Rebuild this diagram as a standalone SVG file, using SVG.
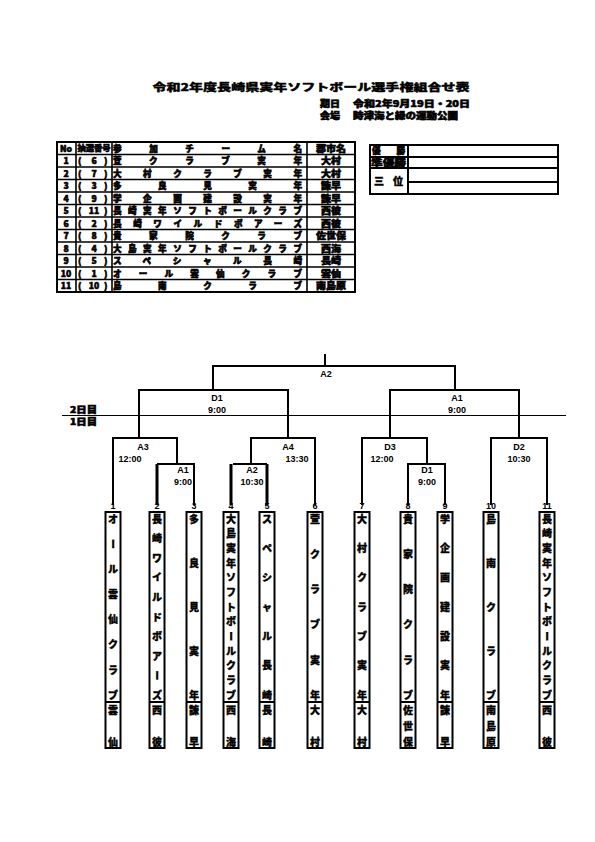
<svg xmlns="http://www.w3.org/2000/svg" width="595" height="842" viewBox="0 0 595 842">
<style>
.j{font-family:"Noto Sans CJK JP","Noto Sans CJK SC",sans-serif;font-weight:900;font-size:10px;fill:#000;stroke:#000;stroke-width:0.35}
.s{font-size:8.6px;stroke-width:0.6}
.c{text-anchor:middle}
.n text{text-anchor:middle}
.l{font-family:"Liberation Sans",Arial,sans-serif;font-weight:bold;font-size:9px;text-anchor:middle;fill:#000}
.b{fill:#fff;stroke:#000;stroke-width:2}
.t{stroke:#000;stroke-width:1.6;fill:none}
.k{stroke:#000;stroke-width:2;fill:none}
.w{stroke:#000;stroke-width:3;fill:none}
</style>
<rect width="595" height="842" fill="#fff"/>
<g id="title">
<text class="j c" x="311" y="91" font-size="14" textLength="317" lengthAdjust="spacingAndGlyphs">令和2年度長崎県実年ソフトボール選手権組合せ表</text>
<text class="j s" x="320" y="107" font-size="8" textLength="20" lengthAdjust="spacingAndGlyphs">期日</text>
<text class="j s" x="353" y="107" font-size="8" textLength="117" lengthAdjust="spacingAndGlyphs">令和2年9月19日・20日</text>
<text class="j s" x="320" y="119" font-size="8" textLength="20" lengthAdjust="spacingAndGlyphs">会場</text>
<text class="j s" x="353" y="119" font-size="8" textLength="105" lengthAdjust="spacingAndGlyphs">時津海と緑の運動公園</text>
</g>
<g id="entry-table">
<rect x="57" y="142" width="298" height="150" class="b"/>
<path class="t" d="M57 154.5H355M57 167H355M57 179.5H355M57 192H355M57 204.5H355M57 217H355M57 229.5H355M57 242H355M57 254.5H355M57 267H355M57 279.5H355M76 142V292M112 142V292M307 142V292"/>
<g class="j s">
<text class="c" x="66" y="151.6">No</text>
<text class="c" x="94" y="151.2" font-size="7.5" textLength="33" lengthAdjust="spacingAndGlyphs">抽選番号</text>
<text x="113" y="151.6" textLength="189" lengthAdjust="spacing">参加チーム名</text>
<text class="c" x="331" y="151.6" textLength="30" lengthAdjust="spacingAndGlyphs">郡市名</text>
<text x="66" y="164.1" class="c">1</text><text x="78" y="164.1">(</text><text x="94" y="164.1" class="c">6</text><text x="104" y="164.1">)</text><text x="113" y="164.1" textLength="189" lengthAdjust="spacing">萱クラブ実年</text><text x="331" y="164.1" class="c" textLength="20" lengthAdjust="spacingAndGlyphs">大村</text>
<text x="66" y="176.6" class="c">2</text><text x="78" y="176.6">(</text><text x="94" y="176.6" class="c">7</text><text x="104" y="176.6">)</text><text x="113" y="176.6" textLength="189" lengthAdjust="spacing">大村クラブ実年</text><text x="331" y="176.6" class="c" textLength="20" lengthAdjust="spacingAndGlyphs">大村</text>
<text x="66" y="189.1" class="c">3</text><text x="78" y="189.1">(</text><text x="94" y="189.1" class="c">3</text><text x="104" y="189.1">)</text><text x="113" y="189.1" textLength="189" lengthAdjust="spacing">多良見実年</text><text x="331" y="189.1" class="c" textLength="20" lengthAdjust="spacingAndGlyphs">諫早</text>
<text x="66" y="201.6" class="c">4</text><text x="78" y="201.6">(</text><text x="94" y="201.6" class="c">9</text><text x="104" y="201.6">)</text><text x="113" y="201.6" textLength="189" lengthAdjust="spacing">学企画建設実年</text><text x="331" y="201.6" class="c" textLength="20" lengthAdjust="spacingAndGlyphs">諫早</text>
<text x="66" y="214.1" class="c">5</text><text x="78" y="214.1">(</text><text x="94" y="214.1" class="c">11</text><text x="104" y="214.1">)</text><text x="113" y="214.1" textLength="189" lengthAdjust="spacing">長崎実年ソフトボールクラブ</text><text x="331" y="214.1" class="c" textLength="20" lengthAdjust="spacingAndGlyphs">西彼</text>
<text x="66" y="226.6" class="c">6</text><text x="78" y="226.6">(</text><text x="94" y="226.6" class="c">2</text><text x="104" y="226.6">)</text><text x="113" y="226.6" textLength="189" lengthAdjust="spacing">長崎ワイルドボアーズ</text><text x="331" y="226.6" class="c" textLength="20" lengthAdjust="spacingAndGlyphs">西彼</text>
<text x="66" y="239.1" class="c">7</text><text x="78" y="239.1">(</text><text x="94" y="239.1" class="c">8</text><text x="104" y="239.1">)</text><text x="113" y="239.1" textLength="189" lengthAdjust="spacing">貴家院クラブ</text><text x="331" y="239.1" class="c" textLength="30" lengthAdjust="spacingAndGlyphs">佐世保</text>
<text x="66" y="251.6" class="c">8</text><text x="78" y="251.6">(</text><text x="94" y="251.6" class="c">4</text><text x="104" y="251.6">)</text><text x="113" y="251.6" textLength="189" lengthAdjust="spacing">大島実年ソフトボールクラブ</text><text x="331" y="251.6" class="c" textLength="20" lengthAdjust="spacingAndGlyphs">西海</text>
<text x="66" y="264.1" class="c">9</text><text x="78" y="264.1">(</text><text x="94" y="264.1" class="c">5</text><text x="104" y="264.1">)</text><text x="113" y="264.1" textLength="189" lengthAdjust="spacing">スペシャル長崎</text><text x="331" y="264.1" class="c" textLength="20" lengthAdjust="spacingAndGlyphs">長崎</text>
<text x="66" y="276.6" class="c">10</text><text x="78" y="276.6">(</text><text x="94" y="276.6" class="c">1</text><text x="104" y="276.6">)</text><text x="113" y="276.6" textLength="189" lengthAdjust="spacing">オール雲仙クラブ</text><text x="331" y="276.6" class="c" textLength="20" lengthAdjust="spacingAndGlyphs">雲仙</text>
<text x="66" y="289.1" class="c">11</text><text x="78" y="289.1">(</text><text x="94" y="289.1" class="c">10</text><text x="104" y="289.1">)</text><text x="113" y="289.1" textLength="189" lengthAdjust="spacing">島南クラブ</text><text x="331" y="289.1" class="c" textLength="30" lengthAdjust="spacingAndGlyphs">南島原</text>
</g>
</g>
<g id="result-table">
<rect x="370" y="145" width="188" height="49" class="b"/>
<path class="k" d="M408 145V194M370 157H558M370 168H558M408 182H558"/>
<text class="j s" x="372" y="154.3" font-size="7.8" textLength="33" lengthAdjust="spacing">優勝</text>
<text class="j s" x="371" y="165.6" font-size="7.8" textLength="35" lengthAdjust="spacingAndGlyphs">準優勝</text>
<text class="j" x="374" y="185" textLength="29" lengthAdjust="spacing">三位</text>
</g>
<g id="day-divider">
<line x1="62" y1="415.5" x2="566" y2="415.5" stroke="#000" stroke-width="1"/>
<text class="j s" x="70" y="412.5" font-size="8" textLength="27" lengthAdjust="spacingAndGlyphs">2日目</text>
<text class="j s" x="70" y="424.5" font-size="8" textLength="27" lengthAdjust="spacingAndGlyphs">1日目</text>
</g>
<g id="connectors">
<path class="k" d="M325 354V366M213 390V366H455V390M139 438V390H288V438M390 438V390H519V438"/>
<path class="k" d="M113 505V438H177V464M157 464H194V505M315 505V438H251V464M233 464H267M362 505V438H427V464M408 505V464H445V505M491 505V438H547V505"/>
<path class="w" d="M157 505V464M231 505V464M267 505V464"/>
</g>
<g id="match-labels" class="l">
<text x="326" y="376.5">A2</text>
<text x="217" y="401">D1</text><text x="217" y="413">9:00</text>
<text x="457" y="401">A1</text><text x="457" y="413">9:00</text>
<text x="143" y="450">A3</text><text x="130" y="462">12:00</text>
<text x="183" y="473">A1</text><text x="183" y="485">9:00</text>
<text x="288" y="450">A4</text><text x="297" y="462">13:30</text>
<text x="252" y="473">A2</text><text x="252" y="485">10:30</text>
<text x="390" y="450">D3</text><text x="382" y="462">12:00</text>
<text x="427" y="473">D1</text><text x="427" y="485">9:00</text>
<text x="519" y="450">D2</text><text x="519" y="462">10:30</text>
</g>
<g id="team-1"><rect class="b" x="105.5" y="512" width="15" height="236"/><line class="k" x1="105.5" y1="702" x2="120.5" y2="702"/><text class="l" x="113" y="509">1</text>
<g class="j n"><text x="113" y="522.7">オ</text><text x="113" y="547.8" transform="rotate(90 113 544.1)">ー</text><text x="113" y="573">ル</text><text x="113" y="598.1">雲</text><text x="113" y="623.3">仙</text><text x="113" y="648.4">ク</text><text x="113" y="673.6">ラ</text><text x="113" y="698.7">ブ</text><text x="113" y="713.5">雲</text><text x="113" y="745.7">仙</text></g></g>
<g id="team-2"><rect class="b" x="149.5" y="512" width="15" height="236"/><line class="k" x1="149.5" y1="702" x2="164.5" y2="702"/><text class="l" x="157" y="509">2</text>
<g class="j n"><text x="157" y="522.7">長</text><text x="157" y="542.3">崎</text><text x="157" y="561.8">ワ</text><text x="157" y="581.4">イ</text><text x="157" y="600.9">ル</text><text x="157" y="620.5">ド</text><text x="157" y="640">ボ</text><text x="157" y="659.6">ア</text><text x="157" y="679.1" transform="rotate(90 157 675.4)">ー</text><text x="157" y="698.7">ズ</text><text x="157" y="713.5">西</text><text x="157" y="745.7">彼</text></g></g>
<g id="team-3"><rect class="b" x="186.5" y="512" width="15" height="236"/><line class="k" x1="186.5" y1="702" x2="201.5" y2="702"/><text class="l" x="194" y="509">3</text>
<g class="j n"><text x="194" y="522.7">多</text><text x="194" y="566.7">良</text><text x="194" y="610.7">見</text><text x="194" y="654.7">実</text><text x="194" y="698.7">年</text><text x="194" y="713.5">諫</text><text x="194" y="745.7">早</text></g></g>
<g id="team-4"><rect class="b" x="223.5" y="512" width="15" height="236"/><line class="k" x1="223.5" y1="702" x2="238.5" y2="702"/><text class="l" x="231" y="509">4</text>
<g class="j n"><text x="231" y="522.7">大</text><text x="231" y="537.4">島</text><text x="231" y="552">実</text><text x="231" y="566.7">年</text><text x="231" y="581.4">ソ</text><text x="231" y="596">フ</text><text x="231" y="610.7">ト</text><text x="231" y="625.4">ボ</text><text x="231" y="640" transform="rotate(90 231 636.3)">ー</text><text x="231" y="654.7">ル</text><text x="231" y="669.4">ク</text><text x="231" y="684">ラ</text><text x="231" y="698.7">ブ</text><text x="231" y="713.5">西</text><text x="231" y="745.7">海</text></g></g>
<g id="team-5"><rect class="b" x="259.5" y="512" width="15" height="236"/><line class="k" x1="259.5" y1="702" x2="274.5" y2="702"/><text class="l" x="267" y="509">5</text>
<g class="j n"><text x="267" y="522.7">ス</text><text x="267" y="552">ペ</text><text x="267" y="581.4">シ</text><text x="267" y="610.7">ャ</text><text x="267" y="640">ル</text><text x="267" y="669.4">長</text><text x="267" y="698.7">崎</text><text x="267" y="713.5">長</text><text x="267" y="745.7">崎</text></g></g>
<g id="team-6"><rect class="b" x="307.5" y="512" width="15" height="236"/><line class="k" x1="307.5" y1="702" x2="322.5" y2="702"/><text class="l" x="315" y="509">6</text>
<g class="j n"><text x="315" y="522.7">萱</text><text x="315" y="557.9">ク</text><text x="315" y="593.1">ラ</text><text x="315" y="628.3">ブ</text><text x="315" y="663.5">実</text><text x="315" y="698.7">年</text><text x="315" y="713.5">大</text><text x="315" y="745.7">村</text></g></g>
<g id="team-7"><rect class="b" x="354.5" y="512" width="15" height="236"/><line class="k" x1="354.5" y1="702" x2="369.5" y2="702"/><text class="l" x="362" y="509">7</text>
<g class="j n"><text x="362" y="522.7">大</text><text x="362" y="552">村</text><text x="362" y="581.4">ク</text><text x="362" y="610.7">ラ</text><text x="362" y="640">ブ</text><text x="362" y="669.4">実</text><text x="362" y="698.7">年</text><text x="362" y="713.5">大</text><text x="362" y="745.7">村</text></g></g>
<g id="team-8"><rect class="b" x="400.5" y="512" width="15" height="236"/><line class="k" x1="400.5" y1="702" x2="415.5" y2="702"/><text class="l" x="408" y="509">8</text>
<g class="j n"><text x="408" y="522.7">貴</text><text x="408" y="557.9">家</text><text x="408" y="593.1">院</text><text x="408" y="628.3">ク</text><text x="408" y="663.5">ラ</text><text x="408" y="698.7">ブ</text><text x="408" y="713.5">佐</text><text x="408" y="729.6">世</text><text x="408" y="745.7">保</text></g></g>
<g id="team-9"><rect class="b" x="437.5" y="512" width="15" height="236"/><line class="k" x1="437.5" y1="702" x2="452.5" y2="702"/><text class="l" x="445" y="509">9</text>
<g class="j n"><text x="445" y="522.7">学</text><text x="445" y="552">企</text><text x="445" y="581.4">画</text><text x="445" y="610.7">建</text><text x="445" y="640">設</text><text x="445" y="669.4">実</text><text x="445" y="698.7">年</text><text x="445" y="713.5">諫</text><text x="445" y="745.7">早</text></g></g>
<g id="team-10"><rect class="b" x="483.5" y="512" width="15" height="236"/><line class="k" x1="483.5" y1="702" x2="498.5" y2="702"/><text class="l" x="491" y="509">10</text>
<g class="j n"><text x="491" y="522.7">島</text><text x="491" y="566.7">南</text><text x="491" y="610.7">ク</text><text x="491" y="654.7">ラ</text><text x="491" y="698.7">ブ</text><text x="491" y="713.5">南</text><text x="491" y="729.6">島</text><text x="491" y="745.7">原</text></g></g>
<g id="team-11"><rect class="b" x="539.5" y="512" width="15" height="236"/><line class="k" x1="539.5" y1="702" x2="554.5" y2="702"/><text class="l" x="547" y="509">11</text>
<g class="j n"><text x="547" y="522.7">長</text><text x="547" y="537.4">崎</text><text x="547" y="552">実</text><text x="547" y="566.7">年</text><text x="547" y="581.4">ソ</text><text x="547" y="596">フ</text><text x="547" y="610.7">ト</text><text x="547" y="625.4">ボ</text><text x="547" y="640" transform="rotate(90 547 636.3)">ー</text><text x="547" y="654.7">ル</text><text x="547" y="669.4">ク</text><text x="547" y="684">ラ</text><text x="547" y="698.7">ブ</text><text x="547" y="713.5">西</text><text x="547" y="745.7">彼</text></g></g>
</svg>
